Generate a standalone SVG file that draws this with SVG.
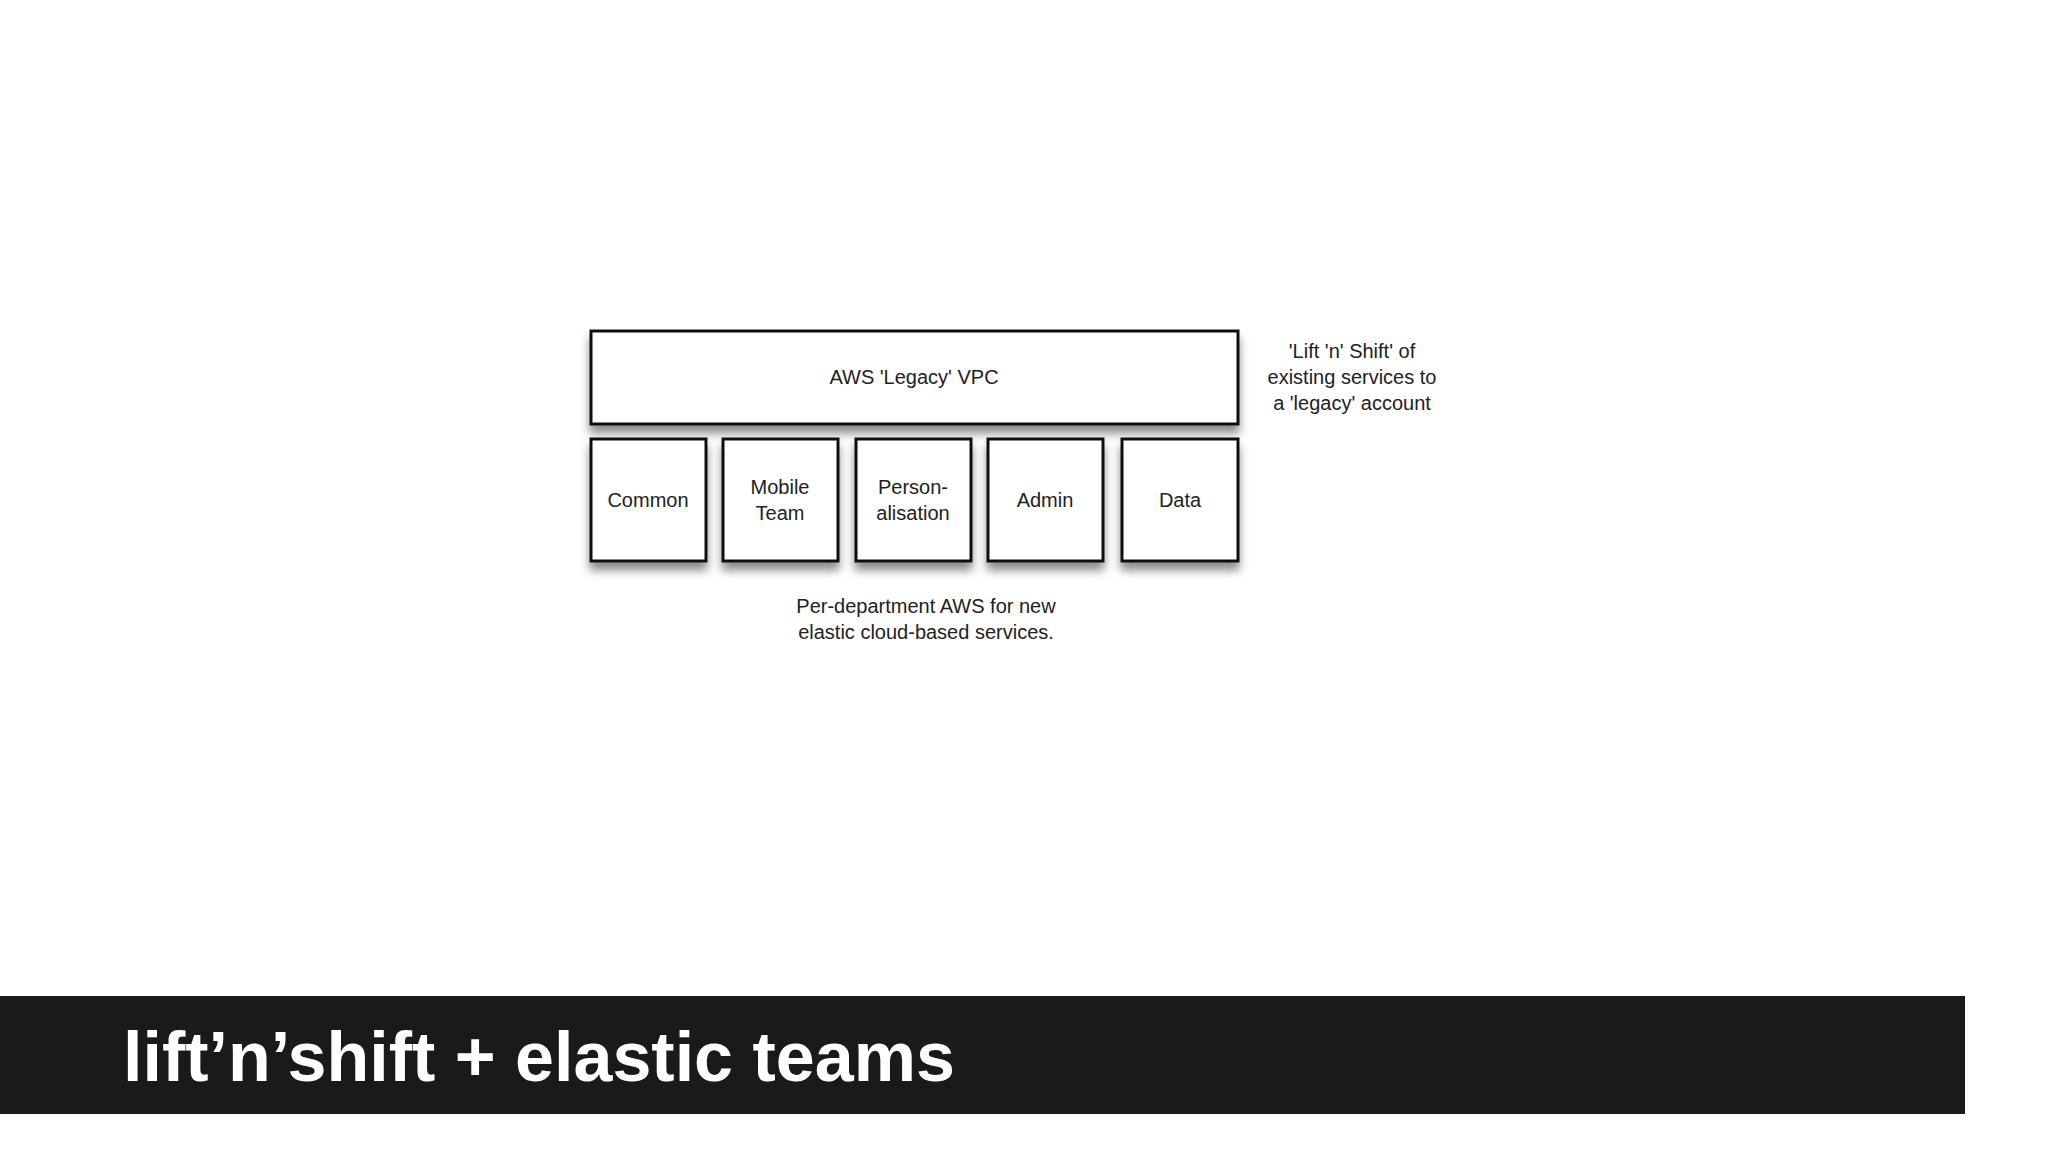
<svg xmlns="http://www.w3.org/2000/svg" width="2048" height="1152" viewBox="0 0 2048 1152">
<defs>
<filter id="sh" x="-20%" y="-20%" width="140%" height="160%"><feDropShadow dx="0" dy="8" stdDeviation="5" flood-color="#000" flood-opacity="0.45"/></filter>
<style>
.box{fill:#fff;stroke:#111;stroke-width:3;filter:url(#sh)}
.t{font-family:"Liberation Sans",Arial,sans-serif;font-size:20px;fill:#222;text-anchor:middle}
</style>
</defs>
<rect width="2048" height="1152" fill="#fff"/>
<g id="legacy"><rect class="box" x="591" y="331" width="647" height="93"/><text class="t" x="914" y="384">AWS 'Legacy' VPC</text></g>
<g id="common"><rect class="box" x="591" y="439" width="115" height="122"/><text class="t" x="648" y="507">Common</text></g>
<g id="mobile"><rect class="box" x="723" y="439" width="115" height="122"/><text class="t" x="780" y="494">Mobile</text><text class="t" x="780" y="520">Team</text></g>
<g id="person"><rect class="box" x="856" y="439" width="115" height="122"/><text class="t" x="913" y="494">Person-</text><text class="t" x="913" y="520">alisation</text></g>
<g id="admin"><rect class="box" x="988" y="439" width="115" height="122"/><text class="t" x="1045" y="507">Admin</text></g>
<g id="data"><rect class="box" x="1122" y="439" width="116" height="122"/><text class="t" x="1180" y="507">Data</text></g>
<g id="note-right"><text class="t" x="1352" y="358">'Lift 'n' Shift' of</text><text class="t" x="1352" y="384">existing services to</text><text class="t" x="1352" y="410">a 'legacy' account</text></g>
<g id="note-bottom"><text class="t" x="926" y="613">Per-department AWS  for new</text><text class="t" x="926" y="639">elastic cloud-based services.</text></g>
<g id="connectors"></g>
<rect x="0" y="996" width="1965" height="118" fill="#1a1a1a"/>
<text x="123" y="1081" font-family="Liberation Sans,Arial,sans-serif" font-weight="bold" font-size="70" fill="#fff">lift’n’shift + elastic teams</text>
</svg>
